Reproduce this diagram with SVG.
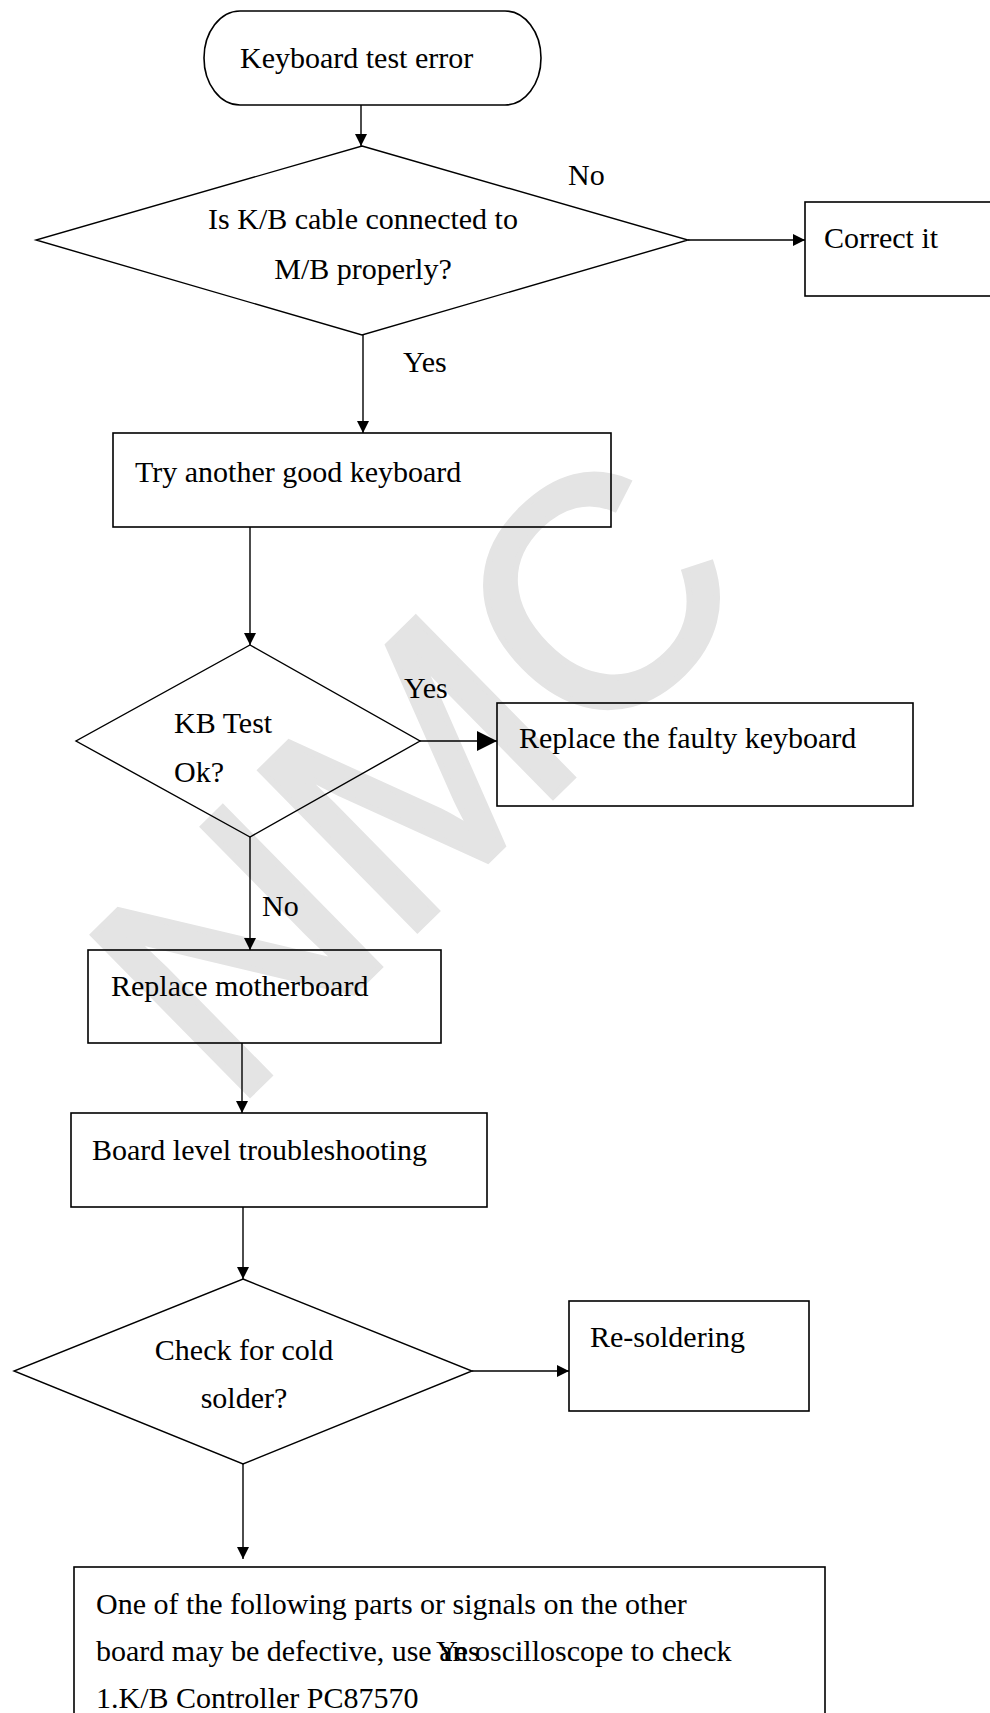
<svg xmlns="http://www.w3.org/2000/svg" width="990" height="1713" viewBox="0 0 990 1713">
<defs>
<style>
.t{font-family:"Liberation Serif","Times New Roman",serif;font-size:30px;fill:#000}
.c{text-anchor:middle}
.box{fill:none;stroke:#000;stroke-width:1.6}
.dia{fill:none;stroke:#000;stroke-width:1.4}
.ln{fill:none;stroke:#000;stroke-width:1.4}
.wm{font-family:"Liberation Sans",Arial,sans-serif;font-size:325px;fill:#e4e4e4;stroke:#e4e4e4;stroke-width:6;stroke-linejoin:miter}
</style>
<marker id="ah" viewBox="0 0 12 12" refX="12" refY="6" markerWidth="12" markerHeight="12" markerUnits="userSpaceOnUse" orient="auto">
<path d="M0,0 L12,6 L0,12 Z" fill="#000"/>
</marker>
<marker id="ahb" viewBox="0 0 20 20" refX="20" refY="10" markerWidth="20" markerHeight="20" markerUnits="userSpaceOnUse" orient="auto">
<path d="M0,0 L20,10 L0,20 Z" fill="#000"/>
</marker>
</defs>
<rect width="990" height="1713" fill="#fff"/>
<g id="watermark">
<text class="wm" transform="translate(231,1113) rotate(-44.5)">NMC</text>
</g>
<g id="connectors">
<line class="ln" x1="361" y1="105" x2="361" y2="146" marker-end="url(#ah)"/>
<line class="ln" x1="688" y1="240" x2="805" y2="240" marker-end="url(#ah)"/>
<line class="ln" x1="363" y1="335" x2="363" y2="433" marker-end="url(#ah)"/>
<line class="ln" x1="250" y1="527" x2="250" y2="645" marker-end="url(#ah)"/>
<line class="ln" x1="420" y1="741" x2="497" y2="741" marker-end="url(#ahb)"/>
<line class="ln" x1="250" y1="837" x2="250" y2="950" marker-end="url(#ah)"/>
<line class="ln" x1="242" y1="1043" x2="242" y2="1113" marker-end="url(#ah)"/>
<line class="ln" x1="243" y1="1207" x2="243" y2="1279" marker-end="url(#ah)"/>
<line class="ln" x1="472" y1="1371" x2="569" y2="1371" marker-end="url(#ah)"/>
<line class="ln" x1="243" y1="1464" x2="243" y2="1559" marker-end="url(#ah)"/>
<text class="t" x="568" y="185">No</text>
<text class="t" x="403" y="372">Yes</text>
<text class="t" x="404" y="698">Yes</text>
<text class="t" x="262" y="916">No</text>
</g>
<g id="start">
<rect class="box" x="204" y="11" width="337" height="94" rx="36" ry="47"/>
<text class="t" x="240" y="68">Keyboard test error</text>
</g>
<g id="d1">
<polygon class="dia" points="362,146 688,240 362,335 36,240"/>
<text class="t c" x="363" y="229">Is K/B cable connected to</text>
<text class="t c" x="363" y="279">M/B properly?</text>
</g>
<g id="correct">
<rect class="box" x="805" y="202" width="220" height="94"/>
<text class="t" x="824" y="248">Correct it</text>
</g>
<g id="try">
<rect class="box" x="113" y="433" width="498" height="94"/>
<text class="t" x="135" y="482">Try another good keyboard</text>
</g>
<g id="d2">
<polygon class="dia" points="250,645 420,741 250,837 76,741"/>
<text class="t" x="174" y="733">KB Test</text>
<text class="t" x="174" y="782">Ok?</text>
</g>
<g id="replacekb">
<rect class="box" x="497" y="703" width="416" height="103"/>
<text class="t" x="519" y="748">Replace the faulty keyboard</text>
</g>
<g id="replacemb">
<rect class="box" x="88" y="950" width="353" height="93"/>
<text class="t" x="111" y="996">Replace motherboard</text>
</g>
<g id="board">
<rect class="box" x="71" y="1113" width="416" height="94"/>
<text class="t" x="92" y="1160">Board level troubleshooting</text>
</g>
<g id="d3">
<polygon class="dia" points="243,1279 472,1371 243,1464 14,1371"/>
<text class="t c" x="244" y="1360">Check for cold</text>
<text class="t c" x="244" y="1408">solder?</text>
</g>
<g id="resolder">
<rect class="box" x="569" y="1301" width="240" height="110"/>
<text class="t" x="590" y="1347">Re-soldering</text>
</g>
<g id="parts">
<rect class="box" x="74" y="1567" width="751" height="200"/>
<text class="t" x="96" y="1614">One of the following parts or signals on the other</text>
<text class="t" x="96" y="1661">board may be defective, use an oscilloscope to check</text>
<text class="t" x="436" y="1661">Yes</text>
<text class="t" x="96" y="1708">1.K/B Controller PC87570</text>
</g>
</svg>
